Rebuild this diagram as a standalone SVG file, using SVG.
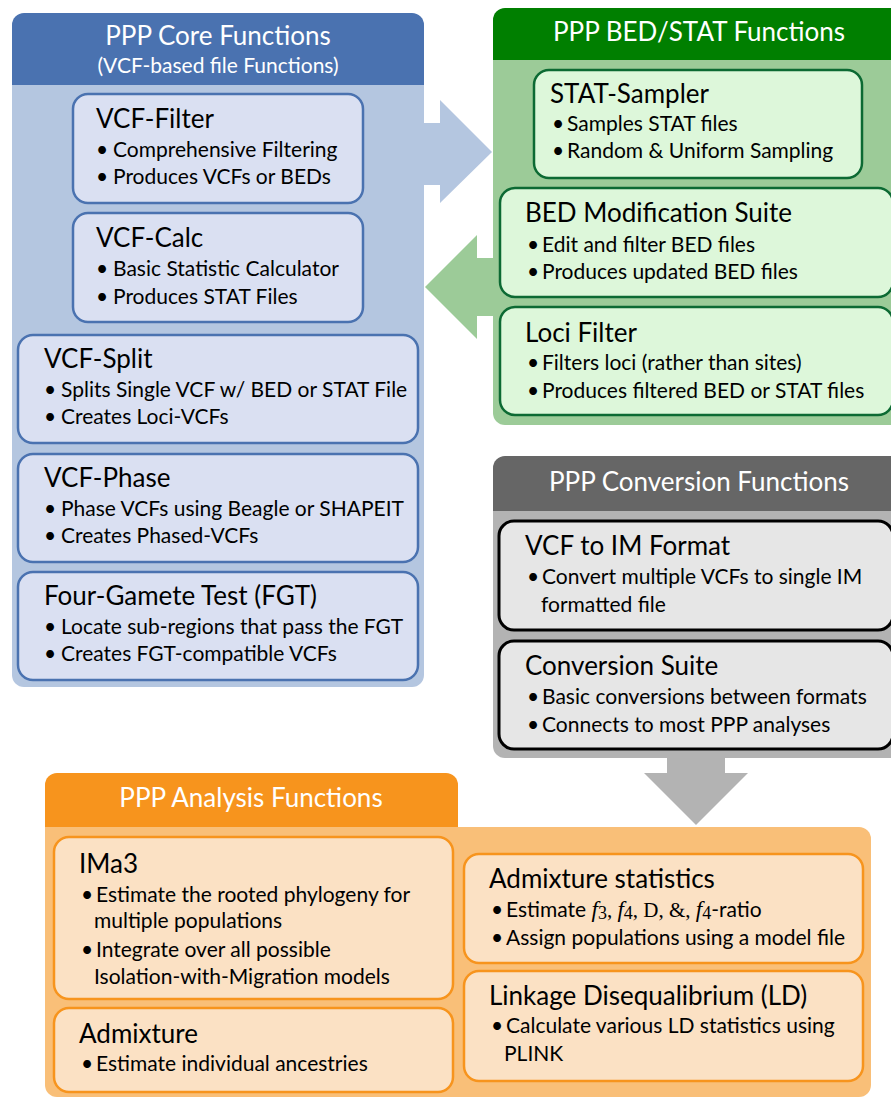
<svg xmlns="http://www.w3.org/2000/svg" width="891" height="1097" viewBox="0 0 891 1097">
<style>
text{font-family:Lato,"Open Sans","Liberation Sans",sans-serif;fill:#000}
.hd{fill:#fff;font-size:26px;text-anchor:middle}
.sub{fill:#fff;font-size:21px;text-anchor:middle}
.t{font-size:26px}
.b{font-size:21px}
.bb{fill:#dae0f2;stroke:#4a72b0;stroke-width:2.5}
.gb{fill:#ddf7da;stroke:#0c6a33;stroke-width:2.5}
.kb{fill:#e6e6e6;stroke:#000;stroke-width:3}
.ob{fill:#fbe1c4;stroke:#f7941d;stroke-width:2.5}
.srf{font-family:"Liberation Serif",serif}
</style>
<rect width="891" height="1097" fill="#fff"/>
<g id="connectors">
<polygon points="418,123 440,123 440,100 492,152 440,203 440,185 418,185" fill="#b4c6e0"/>
<polygon points="498,258 477,258 477,235 425,287 477,339 477,316 498,316" fill="#9ccb98"/>
<polygon points="667,750 725,750 725,773 748,773 696,825 644,773 667,773" fill="#b3b3b3"/>
</g>
<g id="panel-core">
<path d="M12,85 V25 a12,12 0 0 1 12,-12 H412 a12,12 0 0 1 12,12 V85 Z" fill="#4a72b0"/>
<path d="M12,85 H424 V675 a12,12 0 0 1 -12,12 H24 a12,12 0 0 1 -12,-12 Z" fill="#b4c6e0"/>
<text class="hd" x="218" y="45">PPP Core Functions</text>
<text class="sub" x="218" y="73">(VCF-based file Functions)</text>
</g>
<g id="vcf-filter">
<rect class="bb" x="73" y="94" width="290" height="109" rx="15"/>
<text class="t" x="96" y="128">VCF-Filter</text>
<text class="b" x="96" y="157">•</text><text class="b" x="113" y="157">Comprehensive Filtering</text>
<text class="b" x="96" y="184">•</text><text class="b" x="113" y="184">Produces VCFs or BEDs</text>
</g>
<g id="vcf-calc">
<rect class="bb" x="73" y="213" width="290" height="109" rx="15"/>
<text class="t" x="96" y="247">VCF-Calc</text>
<text class="b" x="96" y="276">•</text><text class="b" x="113" y="276">Basic Statistic Calculator</text>
<text class="b" x="96" y="304">•</text><text class="b" x="113" y="304">Produces STAT Files</text>
</g>
<g id="vcf-split">
<rect class="bb" x="18" y="335" width="400" height="108" rx="15"/>
<text class="t" x="44" y="368">VCF-Split</text>
<text class="b" x="44" y="397">•</text><text class="b" x="61" y="397">Splits Single VCF w/ BED or STAT File</text>
<text class="b" x="44" y="424">•</text><text class="b" x="61" y="424">Creates Loci-VCFs</text>
</g>
<g id="vcf-phase">
<rect class="bb" x="18" y="454" width="400" height="108" rx="15"/>
<text class="t" x="44" y="487">VCF-Phase</text>
<text class="b" x="44" y="516">•</text><text class="b" x="61" y="516">Phase VCFs using Beagle or SHAPEIT</text>
<text class="b" x="44" y="543">•</text><text class="b" x="61" y="543">Creates Phased-VCFs</text>
</g>
<g id="fgt">
<rect class="bb" x="18" y="572" width="400" height="108" rx="15"/>
<text class="t" x="44" y="605">Four-Gamete Test (FGT)</text>
<text class="b" x="44" y="634">•</text><text class="b" x="61" y="634">Locate sub-regions that pass the FGT</text>
<text class="b" x="44" y="661">•</text><text class="b" x="61" y="661">Creates FGT-compatible VCFs</text>
</g>
<g id="panel-bedstat">
<path d="M493,60 V20 a12,12 0 0 1 12,-12 H905 V60 Z" fill="#007f00"/>
<path d="M493,60 H905 V425 H505 a12,12 0 0 1 -12,-12 Z" fill="#9ccb98"/>
<text class="hd" x="699" y="41">PPP BED/STAT Functions</text>
</g>
<g id="stat-sampler">
<rect class="gb" x="534" y="70" width="328" height="108" rx="15"/>
<text class="t" x="550" y="103">STAT-Sampler</text>
<text class="b" x="552" y="131">•</text><text class="b" x="567" y="131">Samples STAT files</text>
<text class="b" x="552" y="158">•</text><text class="b" x="567" y="158">Random &amp; Uniform Sampling</text>
</g>
<g id="bed-mod">
<rect class="gb" x="500" y="188" width="393" height="109" rx="15"/>
<text class="t" x="525" y="222">BED Modification Suite</text>
<text class="b" x="527" y="252">•</text><text class="b" x="542" y="252">Edit and filter BED files</text>
<text class="b" x="527" y="279">•</text><text class="b" x="542" y="279">Produces updated BED files</text>
</g>
<g id="loci-filter">
<rect class="gb" x="500" y="307" width="393" height="108" rx="15"/>
<text class="t" x="525" y="342">Loci Filter</text>
<text class="b" x="527" y="370">•</text><text class="b" x="542" y="370">Filters loci (rather than sites)</text>
<text class="b" x="527" y="398">•</text><text class="b" x="542" y="398">Produces filtered BED or STAT files</text>
</g>
<g id="panel-conversion">
<path d="M493,511 V468 a12,12 0 0 1 12,-12 H905 V511 Z" fill="#666666"/>
<path d="M493,511 H905 V758 H505 a12,12 0 0 1 -12,-12 Z" fill="#b3b3b3"/>
<text class="hd" x="699" y="491">PPP Conversion Functions</text>
</g>
<g id="vcf-to-im">
<rect class="kb" x="499" y="521" width="394" height="109" rx="15"/>
<text class="t" x="525" y="555">VCF to IM Format</text>
<text class="b" x="527" y="584">•</text><text class="b" x="542" y="584">Convert multiple VCFs to single IM</text>
<text class="b" x="541" y="612">formatted file</text>
</g>
<g id="conversion-suite">
<rect class="kb" x="499" y="641" width="394" height="108" rx="15"/>
<text class="t" x="525" y="675">Conversion Suite</text>
<text class="b" x="527" y="704">•</text><text class="b" x="542" y="704">Basic conversions between formats</text>
<text class="b" x="527" y="732">•</text><text class="b" x="542" y="732">Connects to most PPP analyses</text>
</g>
<g id="panel-analysis">
<path d="M45,827 V785 a12,12 0 0 1 12,-12 H446 a12,12 0 0 1 12,12 V827 Z" fill="#f7941d"/>
<path d="M45,827 H859 a12,12 0 0 1 12,12 V1085 a12,12 0 0 1 -12,12 H57 a12,12 0 0 1 -12,-12 Z" fill="#f9bf78"/>
<text class="hd" x="251" y="807">PPP Analysis Functions</text>
</g>
<g id="ima3">
<rect class="ob" x="54" y="837" width="399" height="162" rx="15"/>
<text class="t" x="79" y="873">IMa3</text>
<text class="b" x="81" y="902">•</text><text class="b" x="96" y="902">Estimate the rooted phylogeny for</text>
<text class="b" x="94" y="928">multiple populations</text>
<text class="b" x="81" y="957">•</text><text class="b" x="96" y="957">Integrate over all possible</text>
<text class="b" x="94" y="984">Isolation-with-Migration models</text>
</g>
<g id="admixture">
<rect class="ob" x="54" y="1008" width="399" height="84" rx="15"/>
<text class="t" x="79" y="1043">Admixture</text>
<text class="b" x="81" y="1071">•</text><text class="b" x="96" y="1071">Estimate individual ancestries</text>
</g>
<g id="admixture-stats">
<rect class="ob" x="464" y="854" width="399" height="109" rx="15"/>
<text class="t" x="489" y="888">Admixture statistics</text>
<text class="b" x="491" y="917">•</text>
<text class="b" x="506" y="917">Estimate <tspan class="srf" font-style="italic" font-size="23">f</tspan><tspan class="srf" font-size="18" dy="2">3</tspan><tspan class="srf" dy="-2">, </tspan><tspan class="srf" font-style="italic" font-size="23">f</tspan><tspan class="srf" font-size="18" dy="2">4</tspan><tspan class="srf" dy="-2">, D, &amp;, </tspan><tspan class="srf" font-style="italic" font-size="23">f</tspan><tspan class="srf" font-size="18" dy="2">4</tspan><tspan dy="-2">-ratio</tspan></text>
<text class="b" x="491" y="945">•</text><text class="b" x="506" y="945">Assign populations using a model file</text>
</g>
<g id="ld">
<rect class="ob" x="464" y="971" width="399" height="110" rx="15"/>
<text class="t" x="489" y="1005">Linkage Disequalibrium (LD)</text>
<text class="b" x="491" y="1033">•</text><text class="b" x="506" y="1033">Calculate various LD statistics using</text>
<text class="b" x="504" y="1061">PLINK</text>
</g>
</svg>
